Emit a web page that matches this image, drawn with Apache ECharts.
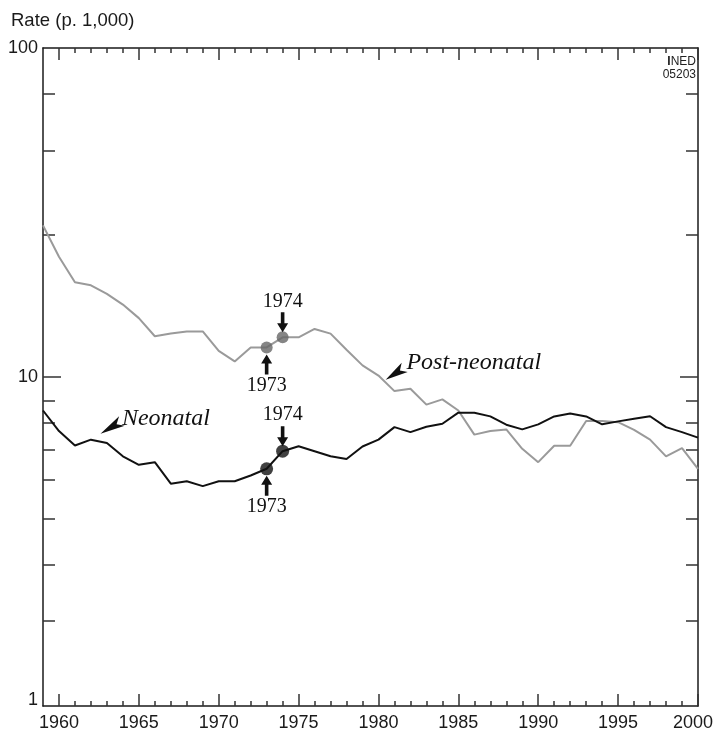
<!DOCTYPE html>
<html>
<head>
<meta charset="utf-8">
<style>
  html, body { margin: 0; padding: 0; background: #fff; }
  #chart { width: 716px; height: 733px; }
</style>
<script src="https://cdn.jsdelivr.net/npm/echarts@6/dist/echarts.min.js"></script>
</head>
<body>
<div id="chart"></div>
<script>
// years on the x axis
const years = [1959, 1960, 1961, 1962, 1963, 1964, 1965, 1966, 1967, 1968, 1969,
  1970, 1971, 1972, 1973, 1974, 1975, 1976, 1977, 1978, 1979,
  1980, 1981, 1982, 1983, 1984, 1985, 1986, 1987, 1988, 1989,
  1990, 1991, 1992, 1993, 1994, 1995, 1996, 1997, 1998, 1999, 2000];

// rates per 1,000
const postNeonatal = [28.9, 23.2, 19.4, 19.0, 17.9, 16.6, 15.1, 13.3, 13.55, 13.76, 13.76,
  12.0, 11.15, 12.3, 12.3, 13.2, 13.2, 14.0, 13.55, 12.1, 10.85,
  10.1, 9.06, 9.21, 8.24, 8.55, 7.91, 6.68, 6.85, 6.93, 6.05,
  5.51, 6.18, 6.18, 7.35, 7.35, 7.29, 6.91, 6.45, 5.74, 6.08, 5.26];
const neonatal = [7.91, 6.85, 6.19, 6.45, 6.30, 5.74, 5.41, 5.51, 4.74, 4.82, 4.66,
  4.82, 4.82, 5.02, 5.26, 5.95, 6.16, 5.95, 5.74, 5.63, 6.15,
  6.45, 7.04, 6.80, 7.06, 7.21, 7.79, 7.79, 7.59, 7.16, 6.93,
  7.18, 7.59, 7.74, 7.59, 7.18, 7.33, 7.47, 7.6, 7.04, 6.80, 6.54];

// highlighted years
const markedYears = [1973, 1974];

// tick labels
const xMajorTicks = [1960, 1965, 1970, 1975, 1980, 1985, 1990, 1995, 2000];
const xMinorTicks = [1961, 1962, 1963, 1964, 1966, 1967, 1968, 1969, 1971, 1972, 1973, 1974,
  1976, 1977, 1978, 1979, 1981, 1982, 1983, 1984, 1986, 1987, 1988, 1989,
  1991, 1992, 1993, 1994, 1996, 1997, 1998, 1999];
const yLabels = [1, 10, 100];
const yMajorTicks = [10];
const yMinorTicks = [1.81, 2.69, 3.72, 4.87, 6.01, 7.26, 8.49, 27.0, 48.8, 72.8];

const INK = '#1a1a1a';
const SANS = '"Liberation Sans", Arial, sans-serif';
const SERIF = '"Liberation Serif", "Times New Roman", serif';

const chart = echarts.init(document.getElementById('chart'));

function pairs(vals) {
  return years.map((y, i) => [y, vals[i]]);
}
function picked(vals) {
  return markedYears.map(y => [y, vals[years.indexOf(y)]]);
}

function xAxisDef(pos, ticks, len, main) {
  return {
    type: 'value', min: 1959, max: 2000, position: pos,
    axisLine: { show: main, onZero: false, lineStyle: { color: INK, width: 1.5 } },
    axisTick: { show: true, inside: true, length: len, customValues: ticks, lineStyle: { color: '#333', width: 1.5 } },
    axisLabel: {
      show: main && pos === 'bottom', customValues: xMajorTicks, margin: 8,
      fontFamily: SANS, fontSize: 18, color: INK,
      formatter: v => v === 2000 ? '{last|2000}' : String(v),
      rich: { last: { fontFamily: SANS, fontSize: 18, color: INK, padding: [0, 10, 0, 0] } }
    },
    splitLine: { show: false }
  };
}
function yAxisDef(pos, ticks, len, main) {
  return {
    type: 'log', logBase: 10, min: 1, max: 100, position: pos,
    axisLine: { show: main, onZero: false, lineStyle: { color: INK, width: 1.5 } },
    axisTick: { show: true, inside: true, length: len, customValues: ticks, lineStyle: { color: '#333', width: 1.5 } },
    axisLabel: {
      show: main && pos === 'left', customValues: yLabels, margin: 5,
      fontFamily: SANS, fontSize: 18, color: INK,
      formatter: v => Math.round(v) === 1 ? '{one|1}' : String(Math.round(v)),
      rich: { one: { fontFamily: SANS, fontSize: 18, color: INK, padding: [0, 0, 12, 0] } }
    },
    splitLine: { show: false }
  };
}

chart.setOption({
  animation: false,
  backgroundColor: '#fff',
  title: {
    text: 'Rate (p. 1,000)', left: 6, top: 6,
    textStyle: { fontFamily: SANS, fontSize: 18.5, fontWeight: 'normal', color: INK }
  },
  grid: { left: 43, right: 18, top: 48, bottom: 27, containLabel: false },
  xAxis: [
    xAxisDef('bottom', xMajorTicks, 12, true),
    xAxisDef('bottom', xMinorTicks, 5, false),
    xAxisDef('top', xMajorTicks, 12, true),
    xAxisDef('top', xMinorTicks, 5, false)
  ],
  yAxis: [
    yAxisDef('left', yMajorTicks, 18, true),
    yAxisDef('left', yMinorTicks, 12, false),
    yAxisDef('right', yMajorTicks, 18, true),
    yAxisDef('right', yMinorTicks, 12, false)
  ],
  series: [
    {
      name: 'Post-neonatal', type: 'line', data: pairs(postNeonatal),
      showSymbol: false, lineStyle: { color: '#9a9a9a', width: 2 }, z: 2
    },
    {
      name: 'Neonatal', type: 'line', data: pairs(neonatal),
      showSymbol: false, lineStyle: { color: '#111', width: 2 }, z: 3
    },
    {
      type: 'scatter', data: picked(postNeonatal), symbolSize: 12,
      itemStyle: { color: '#666' }, z: 4
    },
    {
      type: 'scatter', data: picked(neonatal), symbolSize: 13,
      itemStyle: { color: '#111' }, z: 4
    }
  ]
});

// annotations, placed from data coordinates
const px = (x, y) => chart.convertToPixel({ seriesIndex: 0 }, [x, y]);
const graphics = [];

function yearArrow(year, vals, up) {
  const p = px(year, vals[years.indexOf(year)]);
  const x = p[0];
  const s = up ? 1 : -1;
  const tip = p[1] + s * (up ? 7 : 5);
  const base = tip + s * 20;
  const neck = tip + s * 9;
  graphics.push({
    type: 'polygon', z: 10,
    shape: { points: [[x - 1.8, base], [x + 1.8, base], [x + 1.8, neck], [x + 5.5, neck], [x, tip], [x - 5.5, neck], [x - 1.8, neck]] },
    style: { fill: '#111' }
  });
  graphics.push({
    type: 'text', z: 10, x: x, y: base + s * 11,
    style: { text: String(year), font: '20px ' + SERIF, fill: '#111', align: 'center', verticalAlign: 'middle' }
  });
}
yearArrow(1974, postNeonatal, false);
yearArrow(1973, postNeonatal, true);
yearArrow(1974, neonatal, false);
yearArrow(1973, neonatal, true);

function pointer(tipD, tailD, textD, label) {
  const t = px(tipD[0], tipD[1]);
  const b = px(tailD[0], tailD[1]);
  const dx = b[0] - t[0], dy = b[1] - t[1];
  const L = Math.sqrt(dx * dx + dy * dy);
  const ux = dx / L, uy = dy / L, nx = -uy, ny = ux;
  const W = 5.5;
  graphics.push({
    type: 'polygon', z: 10,
    shape: { points: [
      t,
      [b[0] + nx * W, b[1] + ny * W],
      [t[0] + ux * L * 0.75, t[1] + uy * L * 0.75],
      [b[0] - nx * W, b[1] - ny * W]
    ] },
    style: { fill: '#111' }
  });
  const tp = px(textD[0], textD[1]);
  graphics.push({
    type: 'text', z: 10, x: tp[0], y: tp[1],
    style: { text: label, font: 'italic 24px ' + SERIF, fill: '#111', align: 'left', verticalAlign: 'middle' }
  });
}
pointer([1962.6, 6.72], [1963.94, 7.35], [1963.94, 7.48], 'Neonatal');
pointer([1980.45, 9.81], [1981.64, 10.7], [1981.75, 11.08], 'Post-neonatal');

graphics.push({
  type: 'text', z: 10, x: 696, y: 55,
  style: {
    text: '{b|I}NED\n05203', font: '12px ' + SANS, fill: '#222', align: 'right', lineHeight: 13,
    rich: { b: { fontWeight: 'bold', fontSize: 12, fontFamily: SANS } }
  }
});

chart.setOption({ graphic: graphics });
</script>
</body>
</html>
